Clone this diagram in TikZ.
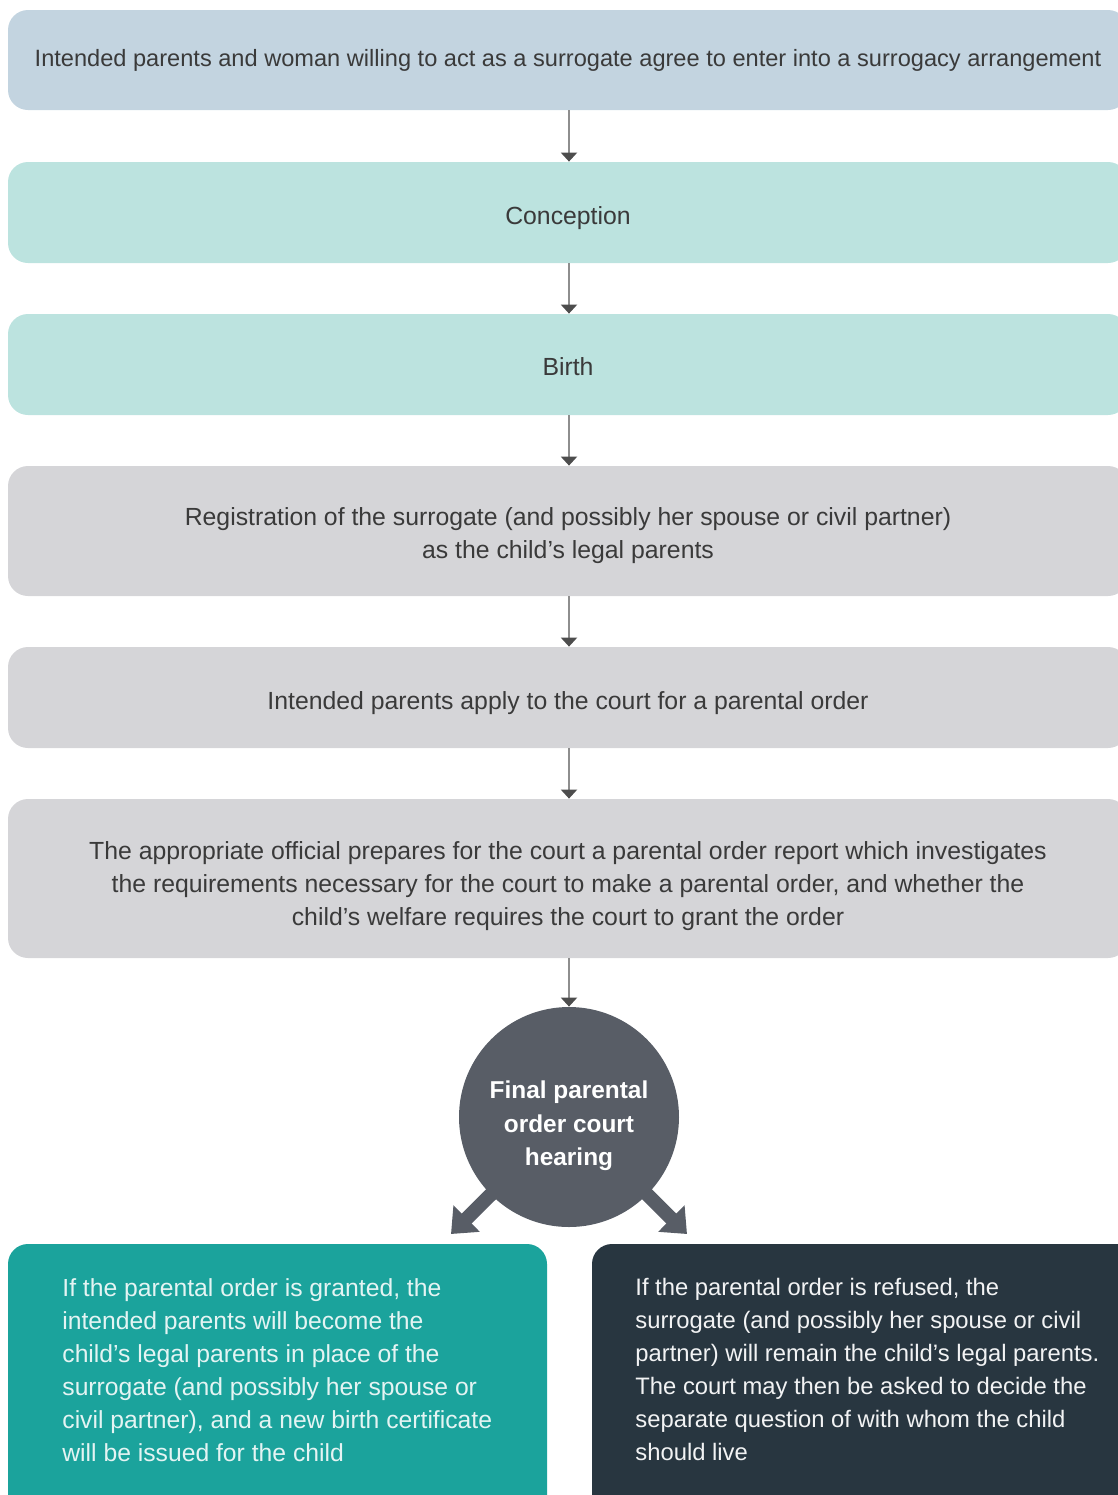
\documentclass[tikz,border=0pt]{standalone}
\usepackage{fontspec}
\setmainfont{Liberation Sans}
\usetikzlibrary{arrows.meta, backgrounds}
\definecolor{stepblue}{HTML}{C3D4E0}
\definecolor{stepmint}{HTML}{BCE3DF}
\definecolor{stepgrey}{HTML}{D5D5D8}
\definecolor{hearinggrey}{HTML}{585D66}
\definecolor{okteal}{HTML}{1BA39C}
\definecolor{nonavy}{HTML}{283640}
\definecolor{textgrey}{HTML}{3A3A3A}
\definecolor{linegrey}{HTML}{8E8E8E}
\definecolor{headgrey}{HTML}{4D4D4D}

\begin{document}
\begin{tikzpicture}[x=.5pt,y=-.5pt,
  lower/.style={execute at begin node={\rule{0pt}{#1}}},
  stage/.style={rounded corners=10pt, minimum width=560pt, inner sep=0pt, align=center,
    text=textgrey, font=\fontsize{12.4}{16.5}\selectfont},
  flow/.style={draw=linegrey, line width=1pt, -{Triangle[length=4.5pt,width=8pt,color=headgrey]}},
  outcome/.style={anchor=north west, inner sep=0pt, align=left, font=\fontsize{12.35}{16.5}\selectfont},
  split/.style={draw=hearinggrey, line width=7pt, -{Triangle[length=11pt,width=18pt]}}]
\useasboundingbox (0,0) rectangle (1118,1495);
\clip (0,0) rectangle (1118,1495);

% the steps, top to bottom
\node[stage, fill=stepblue, minimum height=50pt, font=\fontsize{11.8}{16.5}\selectfont] (agree) at (568,60)
  {Intended parents and woman willing to act as a surrogate agree to enter into a surrogacy arrangement};
\node[stage, fill=stepmint, minimum height=50.5pt, lower=15pt] (conception) at (568,212.5) {Conception};
\node[stage, fill=stepmint, minimum height=50.5pt, lower=11pt] (birth) at (568,364.5) {Birth};
\node[stage, fill=stepgrey, minimum height=65pt, lower=30.5pt] (register) at (568,531)
  {Registration of the surrogate (and possibly her spouse or civil partner)\\as the child’s legal parents};
\node[stage, fill=stepgrey, minimum height=50.5pt, lower=15pt] (apply) at (568,697.5)
  {Intended parents apply to the court for a parental order};
\node[stage, fill=stepgrey, minimum height=79.5pt, lower=50pt] (report) at (568,878.5)
  {The appropriate official prepares for the court a parental order report which investigates\\
   the requirements necessary for the court to make a parental order, and whether the\\
   child’s welfare requires the court to grant the order};
\node[circle, fill=hearinggrey, minimum size=110pt, inner sep=0pt, align=center, text=white,
  font=\bfseries\fontsize{12.2}{16.8}\selectfont, lower=51.4pt] (hearing) at (569,1117)
  {Final parental\\order court\\hearing};

\foreach \a/\b in {agree/conception,conception/birth,birth/register,register/apply,apply/report,report/hearing}
  \draw[flow] (\a.south -| 569,0) -- (\b.north -| 569,0);

% the two outcomes
\coordinate (okend) at (451,1234);
\coordinate (noend) at (687,1234);
\begin{scope}[on background layer]
\draw[split] (hearing.center) -- (okend);
\draw[split] (hearing.center) -- (noend);
\end{scope}

\fill[okteal, rounded corners=10pt] (8,1244) rectangle (547,1560);
\fill[nonavy, rounded corners=10pt] (592,1244) rectangle (1140,1560);
\node[outcome, text=white!88!okteal] (granted) at (62,1278)
  {If the parental order is granted, the\\intended parents will become the\\
   child’s legal parents in place of the\\surrogate (and possibly her spouse or\\
   civil partner), and a new birth certificate\\will be issued for the child};
\node[outcome, text=white!94!nonavy, font=\fontsize{11.9}{16.5}\selectfont] (refused) at (635,1278)
  {If the parental order is refused, the\\surrogate (and possibly her spouse or civil\\
   partner) will remain the child’s legal parents.\\The court may then be asked to decide the\\
   separate question of with whom the child\\should live};
\end{tikzpicture}
\end{document}
